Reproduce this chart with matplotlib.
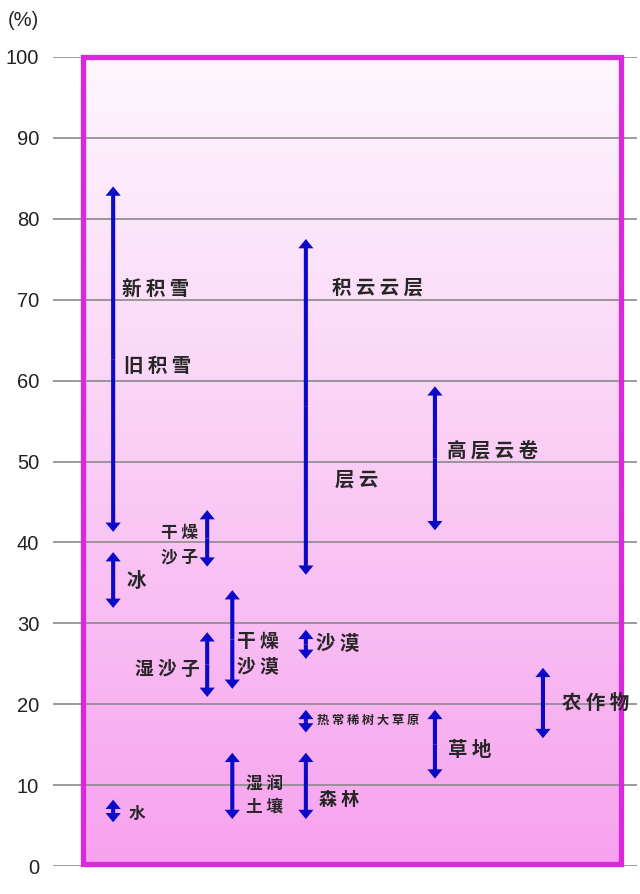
import numpy as np
import matplotlib
matplotlib.use("Agg")
import matplotlib.pyplot as plt
from matplotlib.patches import Rectangle

plt.rcParams['font.family'] = ['Noto Sans CJK SC', 'DejaVu Sans']

# ---------------- data ----------------
surfaces = ["新积雪/旧积雪", "冰", "干燥沙子", "湿沙子", "干燥沙漠", "湿润土壤", "水",
            "积云云层/层云", "沙漠", "热常稀树大草原", "森林", "草地", "高层云卷", "农作物"]
low_pct = [41.3, 31.9, 37.0, 20.9, 21.9, 5.8, 5.4, 36.0, 25.6, 16.5, 5.8, 10.8, 41.5, 15.8]
high_pct = [84.0, 38.8, 44.0, 28.9, 34.1, 14.0, 8.2, 77.5, 29.2, 19.3, 14.0, 19.3, 59.3, 24.5]
column = [0, 0, 1, 1, 2, 2, 0, 3, 3, 3, 3, 4, 4, 5]
yticks = [0, 10, 20, 30, 40, 50, 60, 70, 80, 90, 100]

# ---------------- layout ----------------
col_x = [10.3, 26.4, 30.7, 43.3, 65.4, 83.9]
# label texts: (text, x, y, fontsize)
labels = [
    ("新 积 雪", 11.8, 71.3, 14),
    ("旧 积 雪", 12.2, 61.7, 14),
    ("冰", 12.6, 35.2, 14),
    ("干 燥", 18.5, 41.2, 12),
    ("沙 子", 18.5, 38.2, 12),
    ("湿 沙 子", 14.0, 24.3, 13.5),
    ("干 燥", 31.5, 27.8, 13.5),
    ("沙 漠", 31.5, 24.6, 13.5),
    ("湿 润", 33.0, 10.1, 12),
    ("土 壤", 33.0, 7.3, 12),
    ("水", 13.0, 6.4, 12),
    ("积 云 云 层", 47.8, 71.4, 14),
    ("层 云", 48.3, 47.7, 14),
    ("沙 漠", 45.0, 27.4, 14),
    ("热 常 稀 树 大 草 原", 45.2, 18.0, 8.8),
    ("森 林", 45.5, 8.2, 13),
    ("草 地", 67.6, 14.3, 14),
    ("高 层 云 卷", 67.5, 51.2, 14),
    ("农 作 物", 87.2, 20.1, 14),
]

W, H = 640, 894
fig = plt.figure(figsize=(W / 100, H / 100), dpi=100)
ax = fig.add_axes([53 / W, 28 / H, 584 / W, 809 / H])
ax.set_xlim(0, 100)
ax.set_ylim(0, 100)

box_l, box_r = 5.2, 97.2

# gradient background
top_c = np.array([253, 247, 253]) / 255
bot_c = np.array([247, 163, 238]) / 255
t = np.linspace(0, 1, 256)[:, None]
grad = (bot_c[None, :] * (1 - t) + top_c[None, :] * t)[:, None, :]
ax.imshow(grad, extent=[box_l, box_r, 0, 100], origin='lower', aspect='auto', zorder=0)

# gridlines
for v in yticks:
    ax.axhline(v, color='#8a8a8a', lw=1.2, zorder=1)

# box
ax.add_patch(Rectangle((box_l, 0.3), box_r - box_l, 99.7, fill=False,
                       edgecolor='#dc28dc', lw=3.8, zorder=2, clip_on=False))

# double-headed arrows: two half arrows from the midpoint
shaft_w = 0.7      # x data units
head_w = 2.6       # x data units
head_l = 1.15      # y data units
for lo, hi, c in zip(low_pct, high_pct, column):
    x = col_x[c]
    mid = (lo + hi) / 2
    for end in (lo, hi):
        ax.arrow(x, mid, 0, end - mid, width=shaft_w, head_width=head_w,
                 head_length=head_l, length_includes_head=True,
                 color='#0a0ac8', lw=0, zorder=3)

for txt, x, y, fs in labels:
    ax.text(x, y, txt, fontsize=fs, fontweight='bold', color='#262626',
            ha='left', va='center', zorder=4)

for s in ax.spines.values():
    s.set_visible(False)
ax.set_xticks([])
ax.set_yticks(yticks)
ax.set_yticklabels([str(v) for v in yticks], fontfamily='Liberation Sans',
                   fontsize=14.5, color='#222222')
ax.tick_params(axis='y', length=0, pad=10)

fig.text(8 / W, 1 - 20 / H, "(%)", fontfamily='Liberation Sans', fontsize=14.5,
         color='#222222', ha='left', va='center')

fig.savefig("out.png", dpi=100)
